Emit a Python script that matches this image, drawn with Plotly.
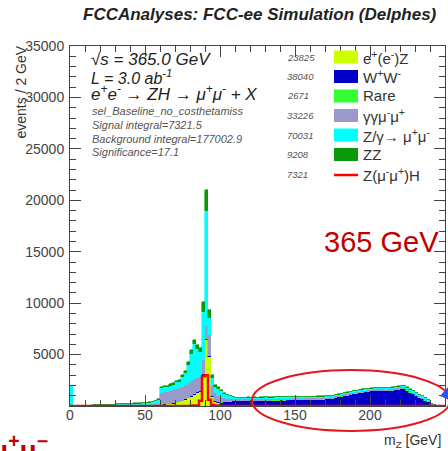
import numpy as np
import plotly.graph_objects as go

# ---------------- data (events / 2 GeV, bins 0..250 GeV) ----------------
bin_edges = np.arange(0, 252, 2)
bin_centers = bin_edges[:-1] + 1

ee_z = ([0] * 10 +
        [0, 0, 0, 0, 0, 20, 20, 25, 25, 30] +
        [30, 30, 35, 35, 40, 40, 45, 50, 60, 80] +
        [100, 120, 150, 180, 220, 280, 350, 450, 600, 750] +
        [900, 1100, 1300, 1400, 3000, 6400, 4800, 900, 400, 250] +
        [120, 80, 50, 35, 25, 15, 10, 5, 0, 0] +
        [0] * 60 + [0] * 5)

ww = ([0] * 10 + [0] * 10 +
      [0, 0, 0, 0, 5, 5, 10, 10, 15, 20] +
      [30, 30, 35, 35, 40, 40, 45, 45, 50, 50] +
      [55, 60, 60, 65, 70, 75, 80, 85, 90, 100] +
      [200, 300, 360, 400, 430, 450, 470, 460, 480, 490] +
      [480, 500, 490, 510, 500, 520, 510, 520, 530, 520] +
      [540, 530, 550, 540, 560, 560, 570, 560, 580, 570] +
      [590, 580, 600, 610, 630, 650, 680, 720, 770, 830] +
      [900, 960, 1020, 1080, 1140, 1200, 1250, 1300, 1340, 1380] +
      [1420, 1460, 1480, 1470, 1450, 1440, 1460, 1500, 1550, 1600] +
      [1650, 1680, 1500, 1300, 1150, 950, 820, 680, 520, 350] +
      [120, 30, 10, 5, 0])

rare = ([0] * 10 + [0] * 10 +
        [0, 0, 0, 0, 0, 5, 5, 10, 10, 15] +
        [25] * 10 +
        [30, 30, 30, 30, 100, 120, 80, 30, 30, 30] +
        [25] * 70 +
        [10, 5, 0, 0, 0])

gg_mumu = ([0, 0, 0, 5, 5, 5, 5, 10, 10, 10] +
           [15, 15, 20, 20, 25, 25, 30, 30, 35, 35] +
           [40, 40, 45, 45, 50, 55, 60, 70, 90, 120] +
           [1150, 1200, 1200, 1250, 1250, 1300, 1300, 1350, 1400, 1400] +
           [1400, 1400, 1350, 1350, 1300, 1200, 1900, 900, 700, 600] +
           [400, 330, 260, 220, 190, 150, 145, 150, 140, 150] +
           [145, 150, 140, 150, 145, 150, 140, 145, 150, 145] +
           [150, 145, 150, 140, 150, 145, 150, 140, 145, 150] +
           [140, 145, 150, 140, 135, 130, 135, 130, 130, 135] +
           [130, 135, 130, 130, 135, 130, 130, 135, 130, 130] +
           [130, 135, 130, 130, 130, 135, 130, 130, 135, 130] +
           [130, 130, 130, 135, 130, 130, 125, 120, 110, 90] +
           [40, 15, 5, 0, 0])

z_gamma = ([1900, 40, 35, 30, 30, 30, 30, 35, 40, 45] +
           [60, 70, 80, 90, 100, 110, 110, 120, 120, 130] +
           [130, 140, 140, 150, 160, 170, 190, 220, 280, 380] +
           [485, 435, 440, 500, 545, 655, 610, 930, 1125, 1775] +
           [2695, 3460, 2830, 2435, 4680, 11155, 1740, 835, 630, 700] +
           [700, 430, 330, 250, 210, 150, 145, 140, 140, 140] +
           [140, 135, 140, 140, 135, 140, 140, 135, 140, 140] +
           [135, 140, 140, 135, 140, 140, 135, 140, 135, 140] +
           [135, 130, 130, 130, 125, 120, 125, 120, 120, 125] +
           [120, 125, 120, 120, 125, 120, 120, 125, 120, 120] +
           [120, 125, 120, 120, 120, 125, 120, 120, 125, 120] +
           [125, 120, 120, 125, 120, 120, 115, 110, 100, 80] +
           [60, 20, 10, 10, 5])

zz = ([50, 0, 0, 0, 0, 0, 5, 5, 5, 5] +
      [10, 10, 15, 15, 20, 20, 25, 25, 30, 30] +
      [30, 35, 35, 40, 40, 45, 50, 50, 60, 70] +
      [80, 90, 100, 110, 120, 150, 170, 200, 250, 300] +
      [320, 350, 330, 320, 1000, 2050, 700, 250, 150, 120] +
      [80, 60, 50, 40, 35, 30, 30, 30, 30, 30] +
      [28, 26, 28, 27, 26, 28, 27, 26, 28, 27] * 5 +
      [30, 30, 30, 28, 25, 25, 22, 20, 18, 15] +
      [10, 5, 0, 0, 0])

signal_zh = ([0] * 40 +
             [20, 40, 60, 500, 2900, 3000, 600, 120, 50, 30] +
             [0] * 75)

legend_labels = ["e<sup>+</sup>(e<sup>-</sup>)Z", "W<sup>+</sup>W<sup>-</sup>", "Rare",
                 "γγμ<sup>-</sup>μ<sup>+</sup>", "Z/γ→ μ<sup>+</sup>μ<sup>-</sup>", "ZZ",
                 "Z(μ<sup>-</sup>μ<sup>+</sup>)H"]
legend_counts = ["23825", "38040", "2671", "33226", "70031", "9208", "7321"]
colors = ["#ccff00", "#0000c8", "#33ff33", "#9999cc", "#00ffff", "#0a990a", "#ff0000"]
backgrounds = [ee_z, ww, rare, gg_mumu, z_gamma, zz]

x_ticks = [0, 50, 100, 150, 200, 250]
y_ticks = [5000, 10000, 15000, 20000, 25000, 30000, 35000]

# ---------------- geometry helpers (pixel -> paper) ----------------
W, H = 448, 451
L, R, T, B = 70, 445, 46, 406


def px(x):
    return (x - L) / (R - L)


def py(y):
    return (B - y) / (B - T)


FONT = "Liberation Sans"

fig = go.Figure()
for vals, col, lab in zip(backgrounds, colors[:6], legend_labels[:6]):
    fig.add_trace(go.Bar(x=bin_centers, y=vals, width=2,
                         marker=dict(color=col, line=dict(width=0.6, color=col)),
                         name=lab, showlegend=False, hoverinfo="skip"))

fig.add_trace(go.Scatter(x=bin_edges, y=signal_zh + [signal_zh[-1]], mode="lines",
                         line=dict(color=colors[6], width=2.5, shape="hv"),
                         showlegend=False, hoverinfo="skip"))

ann = []


def text(x, y, s, size, color="#222", xanchor="left", yanchor="middle", angle=0):
    ann.append(dict(x=px(x), y=py(y), xref="paper", yref="paper", text=s, showarrow=False,
                    xanchor=xanchor, yanchor=yanchor, textangle=angle,
                    font=dict(family=FONT, size=size, color=color)))


text(260, 14, "<b><i>FCCAnalyses: FCC-ee Simulation (Delphes)</i></b>", 17, "#222", "center")
text(20, 44, "events / 2 GeV", 14, "#333", "center", "top", -90)
text(443, 441, "m<sub>Z</sub> [GeV]", 14, "#333", "right")

text(89, 60, "<i>√s = 365.0 GeV</i>", 17, "#222")
text(89, 77, "<i>L = 3.0 ab<sup>-1</sup></i>", 16, "#222")
text(89, 93, "<i>e<sup>+</sup>e<sup>-</sup> → ZH → μ<sup>+</sup>μ<sup>-</sup> + X</i>", 17, "#222")
for yy, s in zip([111, 125, 139, 152],
                 ["sel_Baseline_no_costhetamiss", "Signal integral=7321.5",
                  "Background integral=177002.9", "Significance=17.1"]):
    text(90, yy, "<i>" + s + "</i>", 11, "#555")

shapes = []
rows = [57, 76.5, 96, 115.5, 135, 154.5, 175]
for i, (lab, cnt, col) in enumerate(zip(legend_labels, legend_counts, colors)):
    yc = rows[i]
    text(285, yc, "<i>" + cnt + "</i>", 9.5, "#555")
    text(361, yc, lab, 15, "#333")
    if i < 6:
        shapes.append(dict(type="rect", xref="paper", yref="paper",
                           x0=px(334), x1=px(358), y0=py(yc + 6.5), y1=py(yc - 6.5),
                           fillcolor=col, line=dict(width=0)))
    else:
        shapes.append(dict(type="line", xref="paper", yref="paper",
                           x0=px(334), x1=px(358), y0=py(yc), y1=py(yc),
                           line=dict(color=col, width=2.5)))

# slide overlays
text(381, 242, "365 GeV", 29, "#c00000", "center")
text(50, 448, "<b>μ<sup>+</sup>μ<sup>−</sup></b>", 28, "#c00000", "right")
shapes.append(dict(type="circle", xref="paper", yref="paper", layer="above",
                   x0=px(252), x1=px(450), y0=py(431), y1=py(370),
                   line=dict(color="#e5161d", width=2)))
shapes.append(dict(type="path", xref="paper", yref="paper", layer="above",
                   path=f"M {px(440)},{py(396)} L {px(449)},{py(386)} L {px(449)},{py(400)} Z",
                   fillcolor="#3050f0", line=dict(width=0)))

axis_common = dict(showline=True, linecolor="#444", linewidth=1, mirror="allticks",
                   ticks="inside", ticklen=11, tickcolor="#444", tickwidth=1,
                   showgrid=False, zeroline=False,
                   tickfont=dict(family=FONT, size=14, color="#444"))

fig.update_layout(
    width=W, height=H,
    margin=dict(l=L, r=W - R, t=T, b=H - B, pad=0),
    barmode="stack", bargap=0,
    plot_bgcolor="white", paper_bgcolor="white",
    showlegend=False,
    xaxis=dict(range=[0, 250], tickmode="array", tickvals=x_ticks,
               ticktext=[str(v) for v in x_ticks], ticklabelstandoff=-4,
               minor=dict(dtick=10, tick0=0, ticklen=6, ticks="inside", tickcolor="#444"),
               **axis_common),
    yaxis=dict(range=[0, 35000], tickmode="array", tickvals=y_ticks,
               ticktext=[str(v) for v in y_ticks], ticklabelstandoff=2,
               minor=dict(dtick=1000, tick0=0, ticklen=6, ticks="inside", tickcolor="#444"),
               **axis_common),
    annotations=ann, shapes=shapes,
)

fig.write_html("out.html")
